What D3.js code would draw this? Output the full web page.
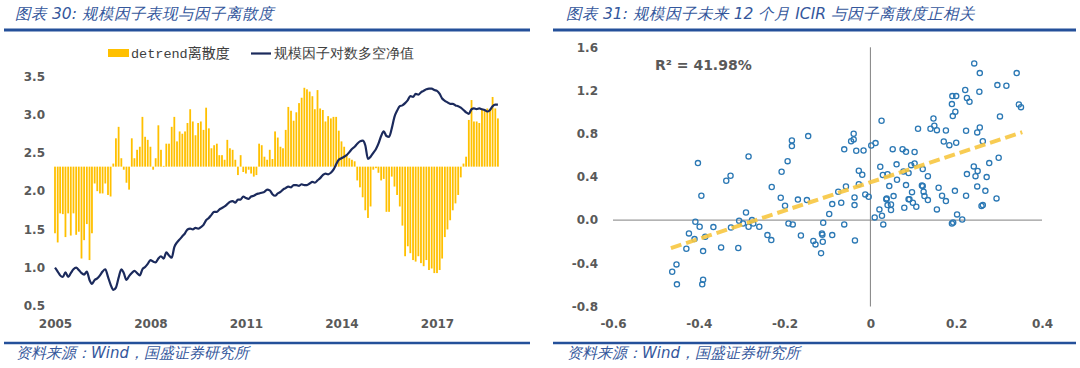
<!DOCTYPE html>
<html>
<head>
<meta charset="utf-8">
<script src="https://cdn.jsdelivr.net/npm/d3@7"></script>
<style>
  body { margin: 0; background: #fff; }
  svg text { font-family: "DejaVu Sans", sans-serif; }
</style>
</head>
<body>
<div id="main"></div>
<script>
// ---- left chart data: monthly, 2005-01 .. 2018-12
const dispersion = [
  1.45, 1.33, 1.71, 1.70, 1.40, 1.71, 1.42, 1.71, 1.43, 1.47, 1.12, 1.36, 1.57, 1.10, 1.45, 2.10, 2.00, 1.97, 1.97, 2.10, 1.95, 1.93,
  2.36, 2.69, 2.84, 2.43, 2.28, 2.11, 2.02, 2.69, 2.43, 2.54, 2.58, 2.97, 2.71, 2.67, 2.58, 2.28, 2.43,
  2.86, 2.54, 2.33, 2.62, 2.62, 2.84, 2.97, 2.65, 2.78, 2.75, 2.78, 2.89, 3.07, 2.91, 2.73, 2.89, 2.91, 2.80, 3.09, 2.82,
  2.56, 2.60, 2.62, 2.47, 2.47, 2.41, 2.67, 2.56, 2.54, 2.41, 2.21, 2.47, 2.25, 2.23, 2.28, 2.23, 2.19, 2.21, 2.62, 2.60, 2.45, 2.41,
  2.54, 2.42, 2.78, 2.70, 2.58, 2.56, 2.80, 3.10, 3.05, 2.92, 3.03, 3.15, 3.22, 3.35, 3.33, 3.30, 3.24, 3.07, 3.32, 3.08,
  3.06, 2.91, 2.98, 2.95, 2.97, 2.97, 2.79, 2.65, 2.58, 2.47, 2.43, 2.41, 2.39,
  2.14, 2.05, 1.92, 1.75, 1.65, 1.80, 2.28, 2.30, 2.24, 2.14, 2.16, 1.73, 1.73, 2.19, 2.06, 1.95, 1.80, 1.55, 1.15, 1.28,
  1.19, 1.10, 1.08, 1.15, 1.06, 1.02, 1.10, 0.97, 0.99, 0.93, 0.93, 0.97, 1.12, 1.40, 1.50, 1.62, 1.75, 1.84, 1.95, 2.18,
  2.36, 2.45, 2.93, 3.19, 2.91, 2.91, 2.89, 3.06, 3.06, 3.08, 3.06, 3.23, 3.08, 2.95
];
const sizeNav = [
  1.00, 0.95, 0.90, 0.88, 0.94, 0.88, 0.93, 0.98, 1.00, 0.97, 0.93, 0.91, 0.95, 0.84, 0.79, 0.84, 0.86, 0.90, 0.95, 0.98,
  0.88, 0.78, 0.71, 0.74, 0.87, 0.98, 0.93, 0.84, 0.89, 0.93, 0.96, 0.93, 0.90, 0.98, 1.01, 1.05, 1.10, 1.08, 1.07, 1.12, 1.15,
  1.12, 1.20, 1.16, 1.13, 1.27, 1.33, 1.37, 1.41, 1.45, 1.50, 1.51, 1.50, 1.52, 1.51, 1.53, 1.56, 1.62, 1.65, 1.69, 1.73,
  1.73, 1.76, 1.78, 1.80, 1.83, 1.86, 1.87, 1.85, 1.89, 1.89, 1.93, 1.91, 1.90, 1.93, 1.94, 1.96, 1.97, 1.98, 1.99, 2.02,
  2.01, 1.96, 1.94, 1.97, 1.99, 2.02, 2.04, 2.06, 2.05, 2.08, 2.08, 2.07, 2.09, 2.08, 2.08, 2.10, 2.12, 2.11, 2.14, 2.17,
  2.21, 2.23, 2.22, 2.24, 2.28, 2.35, 2.41, 2.43, 2.45, 2.47, 2.51, 2.55, 2.58, 2.62, 2.65, 2.66, 2.60,
  2.42, 2.45, 2.50, 2.55, 2.62, 2.72, 2.78, 2.72, 2.71, 2.82, 2.97, 3.05, 3.11, 3.12, 3.15, 3.19, 3.24, 3.23, 3.27, 3.26,
  3.29, 3.31, 3.33, 3.34, 3.34, 3.32, 3.31, 3.27, 3.21, 3.18, 3.16, 3.14, 3.14, 3.12, 3.11, 3.09, 3.06, 3.03, 3.01, 3.07,
  3.08, 3.07, 3.08, 3.07, 3.06, 3.04, 3.06, 3.11, 3.13, 3.13
];
const barBase = 2.32;
const yearTicks = [2005, 2008, 2011, 2014, 2017];
const leftTicks = [0.5, 1.0, 1.5, 2.0, 2.5, 3.0, 3.5];

// ---- right chart data: dispersion (x) vs next 12m ICIR (y)
const icirX = [
  -0.462, -0.452, -0.451, -0.390, -0.392, -0.429, -0.390, -0.423, -0.410, -0.385,
  -0.408, -0.398, -0.366, -0.348, -0.325, -0.308, -0.306, -0.297, -0.290, -0.284,
  -0.276, -0.273, -0.259, -0.240, -0.231, -0.191, -0.181, -0.162, -0.199, -0.148,
  -0.402, -0.394, -0.336, -0.326, -0.284, -0.230, -0.207, -0.193, -0.183, -0.183,
  -0.209, -0.169, -0.145, -0.039, -0.045, -0.039, -0.061, -0.033, -0.016, 0.002,
  0.012, 0.026, -0.027, -0.019, -0.027, -0.057, -0.075, -0.012, -0.004, -0.037,
  -0.037, -0.089, -0.068, -0.096, -0.110, -0.061, -0.089, -0.113, -0.112, -0.133,
  -0.128, -0.111, -0.115, -0.036, 0.010, 0.021, 0.027, 0.030, 0.037, 0.044,
  0.040, 0.048, 0.048, 0.054, 0.079, 0.089, 0.099, 0.107, 0.122, 0.124,
  0.126, 0.134, 0.159, 0.167, 0.176, 0.155, 0.197, 0.223, 0.202, 0.214,
  0.190, 0.193, 0.259, 0.262, 0.294, 0.023, 0.029, 0.040, 0.061, 0.052,
  0.075, 0.083, 0.103, 0.095, 0.103, 0.077, 0.089, 0.122, 0.134, 0.062,
  0.083, 0.097, 0.120, 0.111, 0.140, 0.149, 0.155, 0.147, 0.176, 0.171,
  0.184, 0.200, 0.223, 0.249, 0.255, 0.262, 0.192, 0.198, 0.190, 0.191,
  0.200, 0.221, 0.225, 0.231, 0.242, 0.255, 0.254, 0.296, 0.317, 0.341,
  0.346, 0.351, 0.302, 0.299, 0.277, 0.241, 0.250, 0.245, 0.225, 0.271,
  0.249, 0.268, 0.038, 0.091
];
const icirY = [
  -0.478, -0.410, -0.595, -0.552, -0.595, -0.265, -0.287, -0.123, -0.176, -0.154,
  -0.015, -0.062, -0.065, -0.253, -0.068, -0.259, -0.006, -0.031, 0.071, -0.062,
  0.000, -0.031, -0.062, -0.139, -0.185, -0.031, -0.040, -0.142, 0.133, 0.185,
  0.528, 0.225, 0.364, 0.410, 0.590, 0.306, 0.447, 0.546, 0.738, 0.685,
  0.207, 0.190, 0.778, 0.800, 0.730, 0.747, 0.655, 0.642, 0.645, 0.691,
  0.713, 0.920, 0.457, 0.420, 0.333, 0.312, 0.262, 0.238, 0.216, 0.210,
  0.139, 0.148, 0.160, 0.056, -0.025, -0.040, -0.139, -0.123, -0.135, -0.194,
  -0.225, -0.200, -0.306, -0.188, 0.025, 0.099, 0.040, -0.040, 0.192, 0.315,
  0.139, 0.145, 0.093, 0.222, 0.114, 0.192, 0.160, 0.123, 0.315, 0.262,
  0.222, 0.185, 0.300, 0.225, 0.176, 0.099, 0.271, 0.225, 0.053, 0.006,
  -0.031, -0.022, 0.130, 0.139, 0.201, 0.494, 0.417, 0.425, 0.516, 0.657,
  0.657, 0.632, 0.630, 0.509, 0.525, 0.450, 0.435, 0.472, 0.407, 0.373,
  0.324, 0.259, 0.321, 0.846, 0.846, 0.874, 0.833, 0.941, 0.830, 0.728,
  0.694, 0.716, 0.827, 0.812, 0.858, 0.731, 0.963, 1.003, 1.074, 1.148,
  1.148, 1.204, 1.130, 1.096, 1.451, 1.361, 1.188, 1.250, 1.244, 1.361,
  1.071, 1.046, 0.960, 0.577, 0.528, 0.497, 0.454, 0.407, 0.426, 0.398,
  0.312, 0.271, 0.201, 0.194
];
const rightXTicks = [-0.6, -0.4, -0.2, 0, 0.2, 0.4];
const rightYTicks = [-0.8, -0.4, 0.0, 0.4, 0.8, 1.2, 1.6];
const trendSlope = 1.31, trendIntercept = 0.35, trendRange = [-0.465, 0.354];
const rSquaredLabel = 'R² = 41.98%';

const ruleBlue = '#24509a';
const textBlue = '#34579c';
const axisGrey = '#595959';
const yellow = '#FFC000';
const navy = '#1b2a5c';

const svg = d3.select('#main').append('svg').attr('width', 1080).attr('height', 368);

// panel frame: title, rules, source line
function frame(x0, x1, titleX, title) {
  svg.append('text').attr('x', titleX).attr('y', 19)
    .attr('font-family', '"Noto Sans CJK SC", sans-serif').attr('font-style', 'italic')
    .attr('font-size', 15.5).attr('fill', textBlue).text(title);
  svg.append('line').attr('x1', x0).attr('x2', x1).attr('y1', 30).attr('y2', 30)
    .attr('stroke', ruleBlue).attr('stroke-width', 3);
  svg.append('line').attr('x1', x0).attr('x2', x1).attr('y1', 343).attr('y2', 343)
    .attr('stroke', ruleBlue).attr('stroke-width', 2.5);
  svg.append('text').attr('x', titleX + 1).attr('y', 358)
    .attr('font-family', '"Noto Sans CJK SC", sans-serif').attr('font-style', 'italic')
    .attr('font-size', 15).attr('fill', textBlue).text('资料来源：Wind，国盛证券研究所');
}
frame(4, 530, 15, '图表 30:  规模因子表现与因子离散度');
frame(553, 1076, 566, '图表 31:  规模因子未来 12 个月 ICIR 与因子离散度正相关');

function styleAxis(g) {
  g.select('.domain').remove();
  g.attr('font-family', '"DejaVu Sans", sans-serif').attr('font-size', 12).attr('font-weight', 'bold');
  g.selectAll('text').attr('fill', axisGrey);
}

// ---- left chart
const months = d3.timeMonth.range(new Date(2005, 0, 1), new Date(2019, 0, 1));
const xL = d3.scaleTime().domain([new Date(2005, 0, 1), new Date(2017, 0, 1)]).range([55, 437]);
const yL = d3.scaleLinear().domain([0.5, 3.5]).range([306, 76.3]);
const barW = 1.8;

svg.append('g').selectAll('rect').data(dispersion).join('rect')
  .attr('x', (d, i) => xL(months[i]) - barW / 2)
  .attr('y', d => yL(Math.max(d, barBase)))
  .attr('width', barW)
  .attr('height', d => Math.abs(yL(d) - yL(barBase)))
  .attr('fill', yellow);

svg.append('path').datum(sizeNav)
  .attr('d', d3.line().x((d, i) => xL(months[i])).y(d => yL(d)).curve(d3.curveMonotoneX))
  .attr('fill', 'none').attr('stroke', navy).attr('stroke-width', 2.2);

svg.append('g').attr('transform', 'translate(0,306)')
  .call(d3.axisBottom(xL).tickValues(yearTicks.map(y => new Date(y, 0, 1)))
    .tickFormat(d3.timeFormat('%Y')).tickSize(0).tickPadding(13))
  .call(styleAxis);
svg.append('g').attr('transform', 'translate(50,0)')
  .call(d3.axisLeft(yL).tickValues(leftTicks).tickFormat(d3.format('.1f')).tickSize(0).tickPadding(5))
  .call(styleAxis);

// legend
const leg = svg.append('g');
leg.append('rect').attr('x', 108).attr('y', 49).attr('width', 21).attr('height', 8).attr('fill', yellow);
const t1 = leg.append('text').attr('x', 131).attr('y', 58).attr('font-size', 14).attr('fill', '#404040');
t1.append('tspan').attr('font-family', '"Liberation Mono", monospace').attr('font-size', 13.5).text('detrend');
t1.append('tspan').attr('font-family', '"Noto Sans CJK SC", sans-serif').text('离散度');
leg.append('line').attr('x1', 251).attr('x2', 271).attr('y1', 53.5).attr('y2', 53.5)
  .attr('stroke', navy).attr('stroke-width', 2.2);
leg.append('text').attr('x', 274).attr('y', 58).attr('font-size', 14).attr('fill', '#404040')
  .attr('font-family', '"Noto Sans CJK SC", sans-serif').text('规模因子对数多空净值');

// ---- right chart
const xR = d3.scaleLinear().domain([-0.6, 0.4]).range([613, 1042]);
const yR = d3.scaleLinear().domain([-0.8, 1.6]).range([306.5, 47.3]);
const fmtMinus = f => d => d3.format(f)(d).replace('\u2212', '-');

svg.append('line').attr('x1', xR(-0.6)).attr('x2', xR(0.4)).attr('y1', yR(0)).attr('y2', yR(0))
  .attr('stroke', '#808080').attr('stroke-width', 1);
svg.append('line').attr('x1', xR(0)).attr('x2', xR(0)).attr('y1', yR(1.6)).attr('y2', yR(-0.8))
  .attr('stroke', '#808080').attr('stroke-width', 1);

svg.append('g').attr('transform', `translate(0,${yR(-0.8)})`)
  .call(d3.axisBottom(xR).tickValues(rightXTicks)
    .tickFormat(d => d === 0 ? '0' : fmtMinus('.1f')(d)).tickSize(0).tickPadding(13))
  .call(styleAxis);
svg.append('g').attr('transform', `translate(${xR(-0.6)},0)`)
  .call(d3.axisLeft(yR).tickValues(rightYTicks).tickFormat(fmtMinus('.1f')).tickSize(0).tickPadding(15))
  .call(styleAxis);

svg.append('g').selectAll('circle').data(icirX).join('circle')
  .attr('cx', d => xR(d))
  .attr('cy', (d, i) => yR(icirY[i]))
  .attr('r', 2.6)
  .attr('fill', 'none').attr('stroke', '#2b78b4').attr('stroke-width', 1.3);

svg.append('path').datum(trendRange)
  .attr('d', d3.line().x(d => xR(d)).y(d => yR(trendIntercept + trendSlope * d)))
  .attr('fill', 'none').attr('stroke', '#f7c640').attr('stroke-opacity', 0.9)
  .attr('stroke-width', 4).attr('stroke-dasharray', '11,5');

svg.append('text').attr('x', 655).attr('y', 70)
  .attr('font-size', 14).attr('font-weight', 'bold').attr('fill', axisGrey).text(rSquaredLabel);
</script>
</body>
</html>
